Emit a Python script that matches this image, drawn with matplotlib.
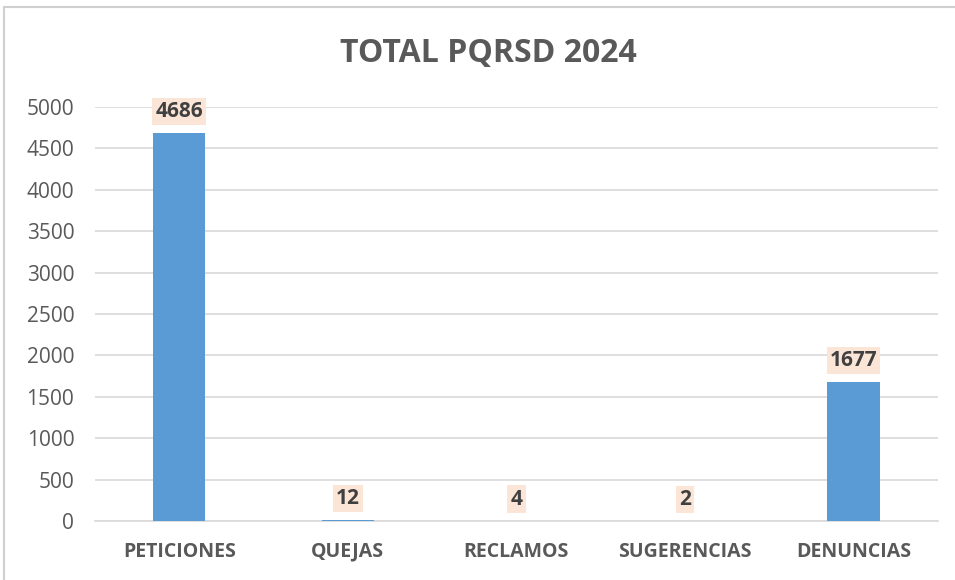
import matplotlib
matplotlib.use("Agg")
import matplotlib.pyplot as plt
from matplotlib.lines import Line2D

# --- DATA ---
categories = ["PETICIONES", "QUEJAS", "RECLAMOS", "SUGERENCIAS", "DENUNCIAS"]
totals = [4686, 12, 4, 2, 1677]
y_ticks = [0, 500, 1000, 1500, 2000, 2500, 3000, 3500, 4000, 4500, 5000]

# --- STYLE ---
BAR_COLOR = "#5B9BD5"
TEXT_COLOR = "#595959"
LABEL_COLOR = "#404040"
LABEL_BG = "#FBE5D6"
GRID_COLOR = "#D9D9D9"
plt.rcParams["font.family"] = ["Open Sans", "DejaVu Sans"]

fig = plt.figure(figsize=(9.55, 5.8), dpi=100)
ax = fig.add_axes([0.0995, 0.1017, 0.8825, 0.7138])

x = list(range(len(categories)))
ax.bar(x, totals, width=0.31, color=BAR_COLOR, zorder=3)

# value labels with a light fill behind the numbers
for xi, v in zip(x, totals):
    ax.annotate(str(v), (xi, v), xytext=(0, 8), textcoords="offset points",
                ha="center", va="bottom", fontsize=15, fontweight="bold",
                color=LABEL_COLOR, zorder=4,
                bbox=dict(boxstyle="square,pad=0.15", fc=LABEL_BG, ec="none"))

ax.set_xlim(-0.5, len(categories) - 0.5)
ax.set_ylim(0, 5000)
ax.set_yticks(y_ticks)
ax.set_xticks(x)
ax.set_xticklabels(categories, fontsize=14, fontweight="bold", color=TEXT_COLOR)
ax.tick_params(axis="y", labelsize=15, labelcolor=TEXT_COLOR, length=0, pad=15)
ax.tick_params(axis="x", length=0, pad=15)
ax.grid(axis="y", color=GRID_COLOR, linewidth=1.2, zorder=0)
for side in ["top", "right", "left"]:
    ax.spines[side].set_visible(False)
ax.spines["bottom"].set_color(GRID_COLOR)
ax.spines["bottom"].set_linewidth(1.2)

fig.text(0.511, 0.908, "TOTAL PQRSD 2024", ha="center", va="center",
         fontsize=23, fontweight="bold", color=TEXT_COLOR)

# chart frame (top and left edges fall inside the image)
fig.add_artist(Line2D([0.0045, 1.0], [0.988, 0.988], color="#D0D0D0", lw=1.5))
fig.add_artist(Line2D([0.0045, 0.0045], [0.0, 0.988], color="#D0D0D0", lw=1.5))

fig.savefig("out.png", dpi=100)
